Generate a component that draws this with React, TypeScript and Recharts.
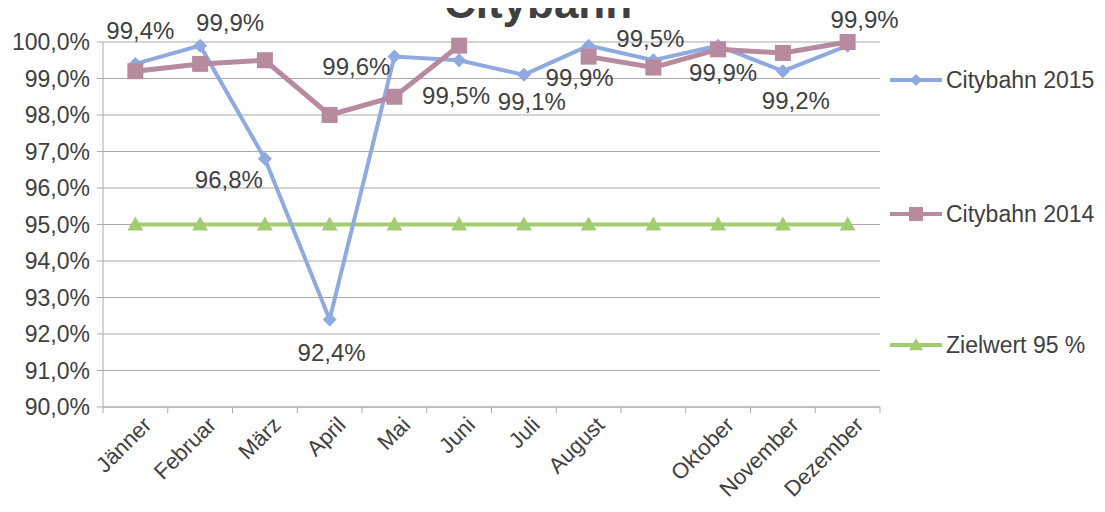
import React from 'react';
import { LineChart, Line, XAxis, YAxis, CartesianGrid, LabelList } from 'recharts';

// Pünktlichkeit Citybahn, Monatswerte
const months = ['Jänner', 'Februar', 'März', 'April', 'Mai', 'Juni', 'Juli', 'August', 'September', 'Oktober', 'November', 'Dezember'];
const monthLabels = ['Jänner', 'Februar', 'März', 'April', 'Mai', 'Juni', 'Juli', 'August', '', 'Oktober', 'November', 'Dezember'];
const citybahn2015 = [99.4, 99.9, 96.8, 92.4, 99.6, 99.5, 99.1, 99.9, 99.5, 99.9, 99.2, 99.9];
const citybahn2014 = [99.2, 99.4, 99.5, 98.0, 98.5, 99.9, null, 99.6, 99.3, 99.8, 99.7, 100.0];
const zielwert = [95, 95, 95, 95, 95, 95, 95, 95, 95, 95, 95, 95];
const yTicks = [90, 91, 92, 93, 94, 95, 96, 97, 98, 99, 100];
const seriesNames = ['Citybahn 2015', 'Citybahn 2014', 'Zielwert 95 %'];

const data = months.map((month, i) => ({
  month,
  y2015: citybahn2015[i],
  y2014: citybahn2014[i],
  ziel: zielwert[i],
}));

const BLUE = '#8eaae0';
const PINK = '#b88aa0';
const GREEN = '#a3cd72';
const TEXT = '#404040';
const GRID = '#aaaaaa';
const FONT = '"Liberation Sans", Arial, sans-serif';

const WIDTH = 1105;
const HEIGHT = 512;
const PLOT_LEFT = 103;
const PLOT_RIGHT = 880;
const BAND = (PLOT_RIGHT - PLOT_LEFT) / months.length;

// where each 2015 label sits relative to its point
const labelOffsets = [
  [5, -33], [30, -23], [-36, 21], [2, 33], [-38, 10], [-3, 35],
  [8, 27], [-9, 32], [-3, -22], [5, 27], [13, 29], [17, -26],
];

const fmt = (v: number) => v.toFixed(1).replace('.', ',') + '%';

const diamond = (cx: number, cy: number, r: number) =>
  `M${cx},${cy - r}L${cx + r},${cy}L${cx},${cy + r}L${cx - r},${cy}Z`;
const triangle = (cx: number, cy: number, r: number) =>
  `M${cx},${cy - r}L${cx + r},${cy + r * 0.75}L${cx - r},${cy + r * 0.75}Z`;

const DiamondDot = (props: any) => {
  const { cx, cy, index } = props;
  if (cx == null || cy == null) return <g key={index} />;
  return <path key={index} d={diamond(cx, cy, 7)} fill={BLUE} />;
};

const SquareDot = (props: any) => {
  const { cx, cy, index } = props;
  if (cx == null || cy == null) return <g key={index} />;
  return <rect key={index} x={cx - 8} y={cy - 8} width={16} height={16} fill={PINK} />;
};

const TriangleDot = (props: any) => {
  const { cx, cy, index } = props;
  if (cx == null || cy == null) return <g key={index} />;
  return <path key={index} d={triangle(cx, cy, 8)} fill={GREEN} />;
};

const MonthTick = (props: any) => {
  const { x, y, index } = props;
  const label = monthLabels[index];
  return (
    <g>
      <line x1={x - BAND / 2} y1={y} x2={x - BAND / 2} y2={y + 6} stroke={GRID} />
      {index === months.length - 1 && (
        <line x1={x + BAND / 2} y1={y} x2={x + BAND / 2} y2={y + 6} stroke={GRID} />
      )}
      <text
        x={x + 12}
        y={y + 14}
        transform={`rotate(-45, ${x + 12}, ${y + 14})`}
        textAnchor="end"
        dominantBaseline="central"
        fontSize={22}
        fontFamily={FONT}
        fill={TEXT}
      >
        {label}
      </text>
    </g>
  );
};

const PointLabel = (props: any) => {
  const { x, y, value, index } = props;
  if (x == null || y == null || value == null) return null;
  const [dx, dy] = labelOffsets[index];
  return (
    <text
      x={x + dx}
      y={y + dy}
      textAnchor="middle"
      dominantBaseline="central"
      fontSize={24}
      fontFamily={FONT}
      fill={TEXT}
    >
      {fmt(value)}
    </text>
  );
};

const legendItems = [
  { name: seriesNames[0], color: BLUE, marker: 'diamond', top: 80 },
  { name: seriesNames[1], color: PINK, marker: 'square', top: 214 },
  { name: seriesNames[2], color: GREEN, marker: 'triangle', top: 345 },
];

function LegendBox() {
  return (
    <>
      {legendItems.map((item) => (
        <div
          key={item.name}
          style={{
            position: 'absolute',
            left: 888,
            top: item.top - 14,
            height: 28,
            display: 'flex',
            alignItems: 'center',
            fontFamily: FONT,
            fontSize: 23,
            color: TEXT,
            whiteSpace: 'nowrap',
          }}
        >
          <svg width={56} height={28} style={{ marginRight: 2 }}>
            <line x1={2} y1={14} x2={54} y2={14} stroke={item.color} strokeWidth={4} />
            {item.marker === 'diamond' && <path d={diamond(28, 14, 6)} fill={item.color} />}
            {item.marker === 'square' && <rect x={21} y={7} width={14} height={14} fill={item.color} />}
            {item.marker === 'triangle' && <path d={triangle(28, 14, 7)} fill={item.color} />}
          </svg>
          <span>{item.name}</span>
        </div>
      ))}
    </>
  );
}

export default function App() {
  return (
    <div
      style={{
        position: 'relative',
        width: WIDTH,
        height: HEIGHT,
        margin: '-8px 0 0 -8px',
        background: '#fff',
        overflow: 'hidden',
      }}
    >
      <div
        style={{
          position: 'absolute',
          left: 0,
          top: -22,
          width: 1076,
          textAlign: 'center',
          fontFamily: FONT,
          fontWeight: 'bold',
          fontSize: 44,
          lineHeight: '50px',
          color: TEXT,
        }}
      >
        Citybahn
      </div>
      <LineChart
        width={WIDTH}
        height={HEIGHT}
        data={data}
        margin={{ top: 42, right: WIDTH - PLOT_RIGHT, bottom: 0, left: 0 }}
      >
        <CartesianGrid vertical={false} stroke={GRID} />
        <XAxis
          dataKey="month"
          height={105}
          padding={{ left: BAND / 2, right: BAND / 2 }}
          axisLine={{ stroke: GRID }}
          tickLine={false}
          tickSize={0}
          tickMargin={0}
          interval={0}
          tick={<MonthTick />}
        />
        <YAxis
          width={PLOT_LEFT}
          domain={[90, 100]}
          ticks={yTicks}
          interval={0}
          tickFormatter={fmt}
          axisLine={{ stroke: GRID }}
          tickLine={{ stroke: GRID }}
          tickSize={6}
          tickMargin={7}
          tick={{ fontSize: 23, fontFamily: FONT, fill: TEXT }}
        />
        <Line
          type="linear"
          dataKey="ziel"
          name={seriesNames[2]}
          stroke={GREEN}
          strokeWidth={4}
          dot={TriangleDot}
          isAnimationActive={false}
        />
        <Line
          type="linear"
          dataKey="y2015"
          name={seriesNames[0]}
          stroke={BLUE}
          strokeWidth={4}
          dot={DiamondDot}
          isAnimationActive={false}
        />
        <Line
          type="linear"
          dataKey="y2014"
          name={seriesNames[1]}
          stroke={PINK}
          strokeWidth={5}
          dot={SquareDot}
          connectNulls={false}
          isAnimationActive={false}
        />
        {/* labels drawn last so they stay on top */}
        <Line
          type="linear"
          dataKey="y2015"
          stroke="none"
          dot={false}
          legendType="none"
          isAnimationActive={false}
        >
          <LabelList dataKey="y2015" content={<PointLabel />} />
        </Line>
      </LineChart>
      <LegendBox />
    </div>
  );
}
